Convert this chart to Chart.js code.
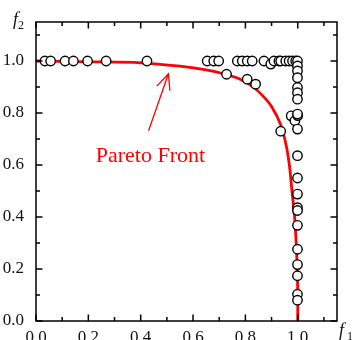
<!DOCTYPE html>
<html>
<head>
<meta charset="utf-8">
<script src="https://cdn.jsdelivr.net/npm/chart.js@4.4.1/dist/chart.umd.min.js"></script>
<style>
  html, body { margin: 0; padding: 0; background: #fff; overflow: hidden; }
  #wrap { width: 352px; height: 340px; overflow: hidden; }
</style>
</head>
<body>
<div id="wrap"><canvas id="paretoChart" width="352" height="370"></canvas></div>
<script>
  // solutions found (f1, f2)
  const pointsX = [
    0.034, 0.056, 0.111, 0.143, 0.197, 0.268, 0.424,
    0.654, 0.679, 0.698, 0.769, 0.788, 0.807, 0.826, 0.871, 0.897, 0.909,
    0.928, 0.935, 0.954, 0.967, 0.980, 0.992, 0.999,
    0.728, 0.807, 0.839, 0.935, 0.975, 0.989, 1.0,
    0.999, 0.999, 0.999, 0.999, 0.999, 0.999, 0.999, 0.999, 0.999, 0.999,
    0.999, 0.999, 0.999, 0.999, 0.999, 0.999, 0.999, 0.999, 0.999,
  ];
  const pointsY = [
    1.0, 1.0, 1.0, 1.0, 1.0, 1.0, 1.0,
    1.0, 1.0, 1.0, 1.0, 1.0, 1.0, 1.0, 1.0, 0.988, 1.0,
    1.0, 1.0, 1.0, 1.0, 1.0, 1.0, 1.0,
    0.949, 0.930, 0.911, 0.730, 0.789, 0.770, 0.790,
    0.981, 0.962, 0.936, 0.898, 0.878, 0.853, 0.738, 0.636, 0.550,
    0.488, 0.436, 0.425, 0.368, 0.276, 0.217, 0.174, 0.103, 0.080, 0.796,
  ];

  // pareto front curve
  const frontX = [0.0, 0.2, 0.4, 0.55, 0.65, 0.72, 0.78, 0.83, 0.87, 0.9, 0.935, 0.955, 0.968, 0.978, 0.988, 0.994, 0.998, 1.0, 1.0];
  const frontY = [1.0, 0.997, 0.993, 0.98, 0.966, 0.95, 0.93, 0.9, 0.862, 0.825, 0.755, 0.68, 0.6, 0.5, 0.4, 0.3, 0.2, 0.1, 0.0];

  const tickValues = [0, 0.2, 0.4, 0.6, 0.8, 1.0];
  const minorValues = [0.1, 0.3, 0.5, 0.7, 0.9, 1.1];

  // annotation: arrow from label to curve, in data units
  const arrowFrom = { x: 0.43, y: 0.732 };
  const arrowTo = { x: 0.506, y: 0.951 };
  const labelText = "Pareto Front";
  const labelPos = { x: 0.437, y: 0.613 };

  const serif = "'Liberation Serif', 'Times New Roman', serif";
  const tickFont = { family: serif, size: 17 };
  const fmt = (v) => (v <= 1.0001 ? v.toFixed(1) : "");

  const boxPlugin = {
    id: "boxAndExtras",
    afterDraw(chart) {
      const c = chart.ctx;
      const a = chart.chartArea;
      const xs = chart.scales.x;
      const ys = chart.scales.y;
      c.save();
      c.strokeStyle = "#000";
      c.lineWidth = 1.5;
      c.strokeRect(a.left, a.top, a.right - a.left, a.bottom - a.top);

      // inward tick marks on all four sides
      c.lineWidth = 1.5;
      c.beginPath();
      tickValues.concat(minorValues).forEach((v, i) => {
        const len = i < tickValues.length ? 6.5 : 4;
        const px = xs.getPixelForValue(v);
        const py = ys.getPixelForValue(v);
        c.moveTo(px, a.bottom); c.lineTo(px, a.bottom - len);
        c.moveTo(px, a.top); c.lineTo(px, a.top + len);
        c.moveTo(a.left, py); c.lineTo(a.left + len, py);
        c.moveTo(a.right, py); c.lineTo(a.right - len, py);
      });
      c.stroke();

      // x tick labels (drawn here, clipped by the window like the original)
      c.fillStyle = "#111";
      c.font = "17px " + serif;
      c.textAlign = "center";
      c.textBaseline = "top";
      xs.ticks.forEach((t) => {
        const s = fmt(t.value);
        if (s) c.fillText(s, xs.getPixelForValue(t.value), a.bottom + 8);
      });

      // arrow
      const x1 = xs.getPixelForValue(arrowFrom.x), y1 = ys.getPixelForValue(arrowFrom.y);
      const x2 = xs.getPixelForValue(arrowTo.x), y2 = ys.getPixelForValue(arrowTo.y);
      c.strokeStyle = "#ff0000";
      c.lineWidth = 1.3;
      c.beginPath();
      c.moveTo(x1, y1); c.lineTo(x2, y2);
      const ang = Math.atan2(y2 - y1, x2 - x1);
      const head = 17, spread = 0.42;
      c.moveTo(x2 - head * Math.cos(ang - spread), y2 - head * Math.sin(ang - spread));
      c.lineTo(x2, y2);
      c.lineTo(x2 - head * Math.cos(ang + spread), y2 - head * Math.sin(ang + spread));
      c.stroke();

      // label
      c.fillStyle = "#ff0000";
      c.font = "22px " + serif;
      c.textAlign = "center";
      c.textBaseline = "alphabetic";
      c.fillText(labelText, xs.getPixelForValue(labelPos.x), ys.getPixelForValue(labelPos.y));

      // axis titles f1 / f2
      c.fillStyle = "#111";
      c.textAlign = "left";
      c.font = "italic 18px " + serif;
      c.fillText("f", a.left - 23, a.top + 3);
      c.fillText("f", a.right + 2, a.bottom + 15);
      c.font = "12px " + serif;
      c.fillText("2", a.left - 18, a.top + 7);
      c.fillText("1", a.right + 10, a.bottom + 19);
      c.restore();
    },
  };

  const ctx = document.getElementById("paretoChart").getContext("2d");
  const paretoChart = new Chart(ctx, {
    type: "scatter",
    data: {
      datasets: [
        {
          label: "Solutions",
          data: pointsX.map((x, i) => ({ x: x, y: pointsY[i] })),
          backgroundColor: "#fff",
          borderColor: "#000",
          borderWidth: 1.4,
          pointRadius: 4.7,
          order: 0,
        },
        {
          label: "Pareto Front",
          data: frontX.map((x, i) => ({ x: x, y: frontY[i] })),
          showLine: true,
          borderColor: "#ff0000",
          borderWidth: 2.8,
          pointRadius: 0,
          tension: 0.3,
          order: 1,
        },
      ],
    },
    options: {
      responsive: false,
      animation: false,
      layout: { padding: { top: 22, right: 15, left: 0, bottom: 0 } },
      scales: {
        x: {
          type: "linear",
          min: 0,
          max: 1.15,
          grid: { display: false },
          border: { display: false },
          ticks: { stepSize: 0.2, includeBounds: false, display: false },
          afterFit: (s) => { s.height = 49; },
        },
        y: {
          type: "linear",
          min: 0,
          max: 1.15,
          grid: { display: false },
          border: { display: false },
          ticks: {
            stepSize: 0.2,
            includeBounds: false,
            padding: 4,
            color: "#111",
            font: tickFont,
            callback: fmt,
          },
          afterFit: (s) => { s.width = 36; },
        },
      },
      plugins: {
        legend: { display: false },
        tooltip: { enabled: false },
      },
    },
    plugins: [boxPlugin],
  });
</script>
</body>
</html>
